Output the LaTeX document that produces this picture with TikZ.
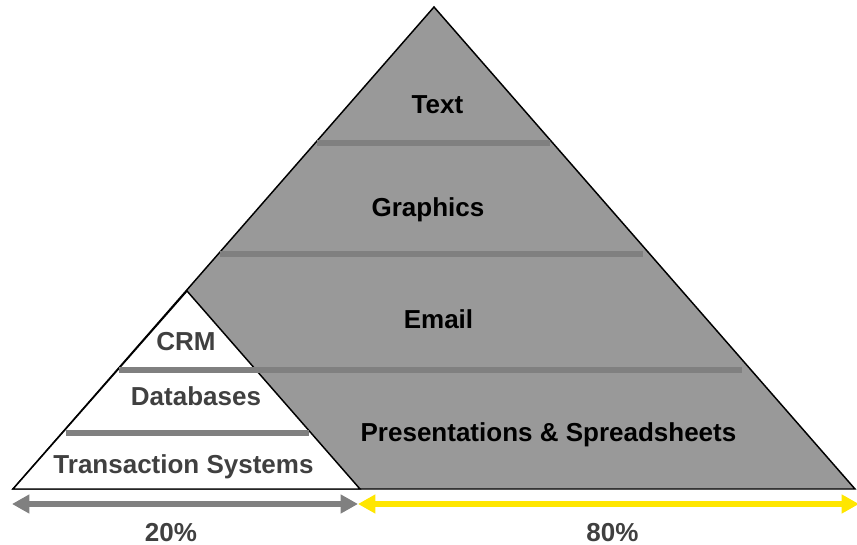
\documentclass[tikz,border=0pt]{standalone}
\usepackage{fontspec}
\setmainfont{Liberation Sans}
\usetikzlibrary{arrows.meta}
\definecolor{bandgrey}{HTML}{999999}
\definecolor{rulegrey}{HTML}{808080}
\definecolor{labelgrey}{HTML}{404040}
\definecolor{spanyellow}{HTML}{FFE600}
\begin{document}
\begin{tikzpicture}[x=0.75pt,y=-0.75pt,
  edge/.style={draw=black,line width=1.1pt,line join=miter},
  rule/.style={draw=rulegrey,line width=3.8pt},
  biglabel/.style={font=\bfseries\fontsize{19.5}{23}\selectfont,text=black,anchor=base,inner sep=0pt},
  smalllabel/.style={biglabel,text=labelgrey},
  span/.style={line width=4.4pt,
    {Triangle[length=13pt,width=13.5pt]}-{Triangle[length=13pt,width=13.5pt]}}]
  \useasboundingbox (0,0) rectangle (857,545);

  % corners of the two pyramids
  \coordinate (apex) at (434,7);
  \coordinate (bigL) at (13,489);
  \coordinate (bigR) at (855,489);
  \coordinate (smallTop) at (187,291);
  \coordinate (smallR) at (360,489);

  % large pyramid (unstructured content)
  \path[edge,fill=bandgrey] (apex) -- (bigR) -- (bigL) -- cycle;
  % small pyramid (structured content)
  \path[edge,fill=white] (smallTop) -- (smallR) -- (bigL) -- cycle;

  % band separators
  \draw[rule] (317,143) -- (550,143);
  \draw[rule] (220,254) -- (643,254);
  \draw[rule] (119,370) -- (742,370);
  \draw[rule] (66,433) -- (309,433);

  % band labels
  \node[biglabel] (text) at (437.5,114) {Text};
  \node[biglabel] (graphics) at (428,217) {Graphics};
  \node[biglabel] (email) at (438.5,329) {Email};
  \node[biglabel] (pres) at (548.5,441) {Presentations \& Spreadsheets};
  \node[smalllabel] (crm) at (186,351) {CRM};
  \node[smalllabel] (db) at (196,406) {Databases};
  \node[smalllabel] (trans) at (183.5,473) {Transaction Systems};

  % share spans
  \coordinate (spanL) at (12,504);
  \coordinate (spanM) at (358,504);
  \coordinate (spanR) at (859,504);
  \draw[span,draw=rulegrey,fill=rulegrey] (spanL) -- (spanM);
  \draw[span,draw=spanyellow,fill=spanyellow] (spanM) -- (spanR);

  \node[smalllabel] (pct20) at (171,541) {20\%};
  \node[smalllabel] (pct80) at (612.5,541) {80\%};
\end{tikzpicture}
\end{document}
